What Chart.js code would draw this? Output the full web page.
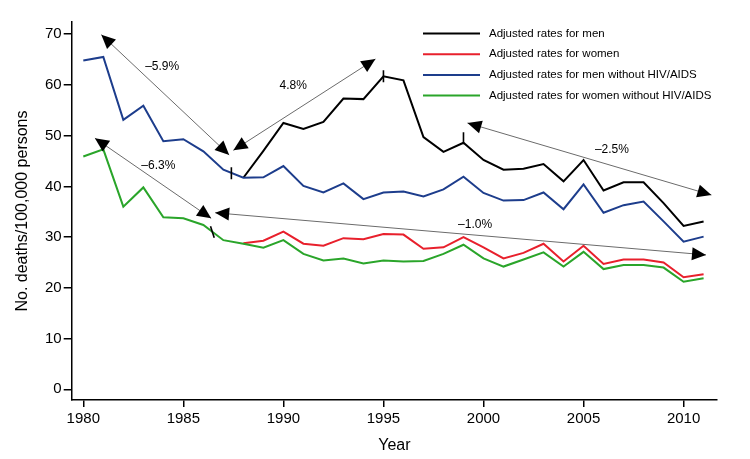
<!DOCTYPE html>
<html>
<head>
<meta charset="utf-8">
<script src="https://cdn.jsdelivr.net/npm/chart.js@4.4.1/dist/chart.umd.min.js"></script>
<style>
  html, body { margin: 0; padding: 0; background: #fff; }
  #wrap { width: 750px; height: 459px; }
</style>
</head>
<body>
<div id="wrap"><canvas id="chart"></canvas></div>
<script>
/* global Chart */

// Data
const years = [1980, 1981, 1982, 1983, 1984, 1985, 1986, 1987, 1988, 1989, 1990, 1991, 1992, 1993, 1994, 1995,
    1996, 1997, 1998, 1999, 2000, 2001, 2002, 2003, 2004, 2005, 2006, 2007, 2008, 2009, 2010, 2011];

const menRates = [null, null, null, null, null, null, null, null, 41.7, 47.0, 52.5, 51.3, 52.7, 57.3, 57.2, 61.7,
    60.9, 49.7, 46.8, 48.6, 45.2, 43.3, 43.5, 44.4, 41.0, 45.2, 39.2, 40.8, 40.8, 36.7, 32.2, 33.1];
const womenRates = [null, null, null, null, null, null, null, null, 28.8, 29.3, 31.1, 28.7, 28.3, 29.8, 29.6, 30.6,
    30.5, 27.7, 28.0, 30.0, 28.0, 25.8, 26.9, 28.7, 25.2, 28.3, 24.7, 25.6, 25.6, 25.0, 22.1, 22.7];
const menNoHivRates = [64.8, 65.5, 53.1, 55.9, 48.9, 49.3, 46.9, 43.3, 41.7, 41.8, 44.0, 40.1, 38.8, 40.6, 37.5, 38.8,
    39.0, 38.0, 39.4, 41.9, 38.7, 37.2, 37.3, 38.8, 35.5, 40.4, 34.8, 36.3, 37.0, 33.1, 29.1, 30.1];
const womenNoHivRates = [45.9, 47.3, 36.0, 39.8, 33.9, 33.7, 32.4, 29.4, 28.7, 27.9, 29.4, 26.7, 25.4, 25.8, 24.8, 25.4,
    25.2, 25.3, 26.7, 28.5, 25.8, 24.2, 25.6, 27.0, 24.2, 27.1, 23.7, 24.5, 24.5, 24.0, 21.2, 21.9];

const seriesLabels = [
    'Adjusted rates for men',
    'Adjusted rates for women',
    'Adjusted rates for men without HIV/AIDS',
    'Adjusted rates for women without HIV/AIDS'
];

const xTicks = [1980, 1985, 1990, 1995, 2000, 2005, 2010];
const yTicks = [0, 10, 20, 30, 40, 50, 60, 70];

// joinpoints (small tick marks on the lines)
const joinYears = [1987.4, 1995.0, 1999.0, 1986.45];
const joinValues = [42.6, 61.7, 49.5, 31.0];

// annual percent change arrows (tip to tip) and their labels
const arrowStart = [[1980.9, 69.9], [1987.5, 47.1], [1999.2, 52.5], [1980.58, 49.5], [1986.59, 34.8]];
const arrowEnd = [[1987.29, 46.2], [1994.6, 65.1], [2011.39, 38.3], [1986.39, 33.7], [2011.12, 26.5]];
const arrowText = ['\u20135.9%', '4.8%', '\u20132.5%', '\u20136.3%', '\u20131.0%'];
const arrowTextAt = [[1983.94, 63.6], [1990.49, 59.8], [2006.42, 47.2], [1983.75, 44.1], [1999.58, 32.4]];

const FONT = '"Liberation Sans", Arial, Helvetica, sans-serif';

const toPoints = (values) => years.map((yr, i) => ({ x: yr, y: values[i] }));

/**
 * Draw a filled arrow head with its tip at (x, y), pointing away from (fx, fy)
 */
const drawHead = (ctx, x, y, fx, fy) => {
    const ang = Math.atan2(y - fy, x - fx);
    const len = 14;
    const half = 6.5;
    ctx.beginPath();
    ctx.moveTo(x, y);
    ctx.lineTo(x - len * Math.cos(ang) + half * Math.sin(ang), y - len * Math.sin(ang) - half * Math.cos(ang));
    ctx.lineTo(x - len * Math.cos(ang) - half * Math.sin(ang), y - len * Math.sin(ang) + half * Math.cos(ang));
    ctx.closePath();
    ctx.fill();
};

const arrowPlugin = {
    id: 'arrowPlugin',
    afterDatasetsDraw(chart) {
        const ctx = chart.ctx;
        const xs = chart.scales.x;
        const ys = chart.scales.y;
        ctx.save();
        arrowStart.forEach((p, i) => {
            const x1 = xs.getPixelForValue(p[0]);
            const y1 = ys.getPixelForValue(p[1]);
            const x2 = xs.getPixelForValue(arrowEnd[i][0]);
            const y2 = ys.getPixelForValue(arrowEnd[i][1]);
            ctx.strokeStyle = '#6b6b6b';
            ctx.lineWidth = 1;
            ctx.beginPath();
            ctx.moveTo(x1, y1);
            ctx.lineTo(x2, y2);
            ctx.stroke();
            ctx.fillStyle = '#000';
            drawHead(ctx, x1, y1, x2, y2);
            drawHead(ctx, x2, y2, x1, y1);
            ctx.font = '12px ' + FONT;
            ctx.textAlign = 'center';
            ctx.textBaseline = 'middle';
            ctx.fillText(arrowText[i], xs.getPixelForValue(arrowTextAt[i][0]), ys.getPixelForValue(arrowTextAt[i][1]));
        });
        ctx.restore();
    }
};

const legendPlugin = {
    id: 'legendPlugin',
    afterDraw(chart) {
        const ctx = chart.ctx;
        const area = chart.chartArea;
        const left = area.right - 294;
        const top = area.top + 11.5;
        ctx.save();
        ctx.font = '11.5px ' + FONT;
        ctx.textAlign = 'left';
        ctx.textBaseline = 'middle';
        seriesLabels.forEach((label, i) => {
            const ds = chart.data.datasets[i];
            const y = top + i * 20.7;
            ctx.strokeStyle = ds.borderColor;
            ctx.lineWidth = 2;
            ctx.beginPath();
            ctx.moveTo(left, y);
            ctx.lineTo(left + 57, y);
            ctx.stroke();
            ctx.fillStyle = '#000';
            ctx.fillText(label, left + 66, y);
        });
        ctx.restore();
    }
};

const lineSet = (label, values, color, order) => ({
    label: label,
    data: toPoints(values),
    borderColor: color,
    backgroundColor: color,
    borderWidth: 2,
    pointRadius: 0,
    tension: 0,
    spanGaps: false,
    order: order
});

(() => {
    'use strict';

    const data = {
        datasets: [
            lineSet(seriesLabels[0], menRates, '#000000', 3),
            lineSet(seriesLabels[1], womenRates, '#e8202c', 4),
            lineSet(seriesLabels[2], menNoHivRates, '#1d3d8c', 2),
            lineSet(seriesLabels[3], womenNoHivRates, '#2aa52a', 1),
            {
                type: 'scatter',
                label: '',
                data: joinYears.map((yr, i) => ({ x: yr, y: joinValues[i] })),
                pointStyle: 'line',
                rotation: [90, 90, 90, 72],
                pointRadius: 6,
                borderColor: '#000',
                borderWidth: 1.6,
                showLine: false,
                order: 0
            }
        ]
    };

    const tickFont = { family: FONT, size: 15 };
    const titleFont = { family: FONT, size: 16 };

    const options = {
        responsive: true,
        maintainAspectRatio: false,
        animation: false,
        layout: { padding: { top: 22, right: 33, left: 0, bottom: 0 } },
        plugins: {
            legend: { display: false },
            tooltip: { enabled: false }
        },
        scales: {
            x: {
                type: 'linear',
                min: 1979.42,
                max: 2011.67,
                afterBuildTicks: (scale) => { scale.ticks = xTicks.map(v => ({ value: v })); },
                afterFit: (scale) => { scale.height = 59; },
                border: { display: true, color: '#000', width: 1.5 },
                grid: { drawOnChartArea: false, drawTicks: true, tickLength: 7, color: '#000', lineWidth: 1.5 },
                ticks: { color: '#000', font: tickFont, padding: 3, maxRotation: 0, callback: (v) => String(v) },
                title: { display: true, text: 'Year', color: '#000', font: titleFont, padding: { top: 0, bottom: 4 } }
            },
            y: {
                type: 'linear',
                min: -2.1,
                max: 72.4,
                afterBuildTicks: (scale) => { scale.ticks = yTicks.map(v => ({ value: v })); },
                afterFit: (scale) => { scale.width = 71.7; },
                border: { display: true, color: '#000', width: 1.5 },
                grid: { drawOnChartArea: false, drawTicks: true, tickLength: 8, color: '#000', lineWidth: 1.5 },
                ticks: { color: '#000', font: tickFont, padding: 2 },
                title: { display: true, text: 'No. deaths/100,000 persons', color: '#000', font: titleFont, padding: { top: 13, bottom: 0 } }
            }
        }
    };

    new Chart(document.getElementById('chart'), {
        type: 'line',
        data: data,
        options: options,
        plugins: [arrowPlugin, legendPlugin]
    });
})();
</script>
</body>
</html>
